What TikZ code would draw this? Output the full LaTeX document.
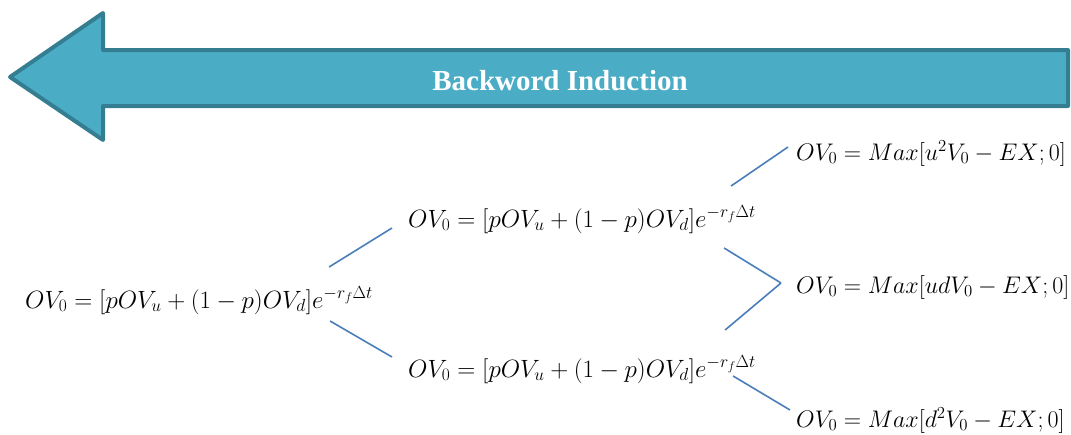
\RequirePackage{fix-cm}
\documentclass[tikz,border=0pt]{standalone}
\usepackage{fontspec}
\newfontfamily\titlefont{Liberation Serif}

\definecolor{arrowfill}{HTML}{4BACC6}
\definecolor{arrowline}{HTML}{357D91}
\definecolor{branchblue}{HTML}{4A7EBB}

\tikzset{
  formula/.style={anchor=base west, inner sep=0pt, font=\fontsize{25}{30}\selectfont},
  payoff/.style={formula, font=\fontsize{24}{29}\selectfont},
  branch/.style={branchblue, line width=1.6pt},
}

\begin{document}
\begin{tikzpicture}[x=1pt, y=-1pt]
    \useasboundingbox (0,0) rectangle (1071,434);

    % Big arrow
    \draw[arrowline, fill=arrowfill, line width=4pt, line join=round]
        (10,77) -- (103,13) -- (103,50) -- (1068,50) -- (1068,106)
        -- (103,106) -- (103,140) -- cycle;
    \node[white, anchor=base, font=\titlefont\bfseries\fontsize{29}{34}\selectfont]
        (title) at (560,90) {Backword Induction};

    % Tree nodes
    \node[formula] (root) at (25,308) {$OV_0=[pOV_u+(1-p)OV_d]e^{-r_f\Delta t}$};
    \node[formula] (up) at (408,227) {$OV_0=[pOV_u+(1-p)OV_d]e^{-r_f\Delta t}$};
    \node[formula] (down) at (408,377) {$OV_0=[pOV_u+(1-p)OV_d]e^{-r_f\Delta t}$};
    \node[payoff] (uu) at (796,160) {$OV_0=Max[u^2V_0-EX;0]$};
    \node[payoff] (ud) at (796,293) {$OV_0=Max[udV_0-EX;0]$};
    \node[payoff] (dd) at (796,427) {$OV_0=Max[d^2V_0-EX;0]$};

    % Branches
    \draw[branch] ([shift={(-44,-41)}]root.base east) -- ([shift={(-16,1)}]up.base west);
    \draw[branch] ([shift={(-43,13)}]root.base east) -- ([shift={(-16,-20)}]down.base west);
    \draw[branch] ([shift={(-25,-41)}]up.base east) -- ([shift={(-8,-13)}]uu.base west);
    \draw[branch] ([shift={(-32,21)}]up.base east) -- ([shift={(-15,-10)}]ud.base west);
    \draw[branch] ([shift={(-31,-47)}]down.base east) -- ([shift={(-15,-10)}]ud.base west);
    \draw[branch] ([shift={(-23,-1)}]down.base east) -- ([shift={(-6,-17)}]dd.base west);
\end{tikzpicture}
\end{document}
